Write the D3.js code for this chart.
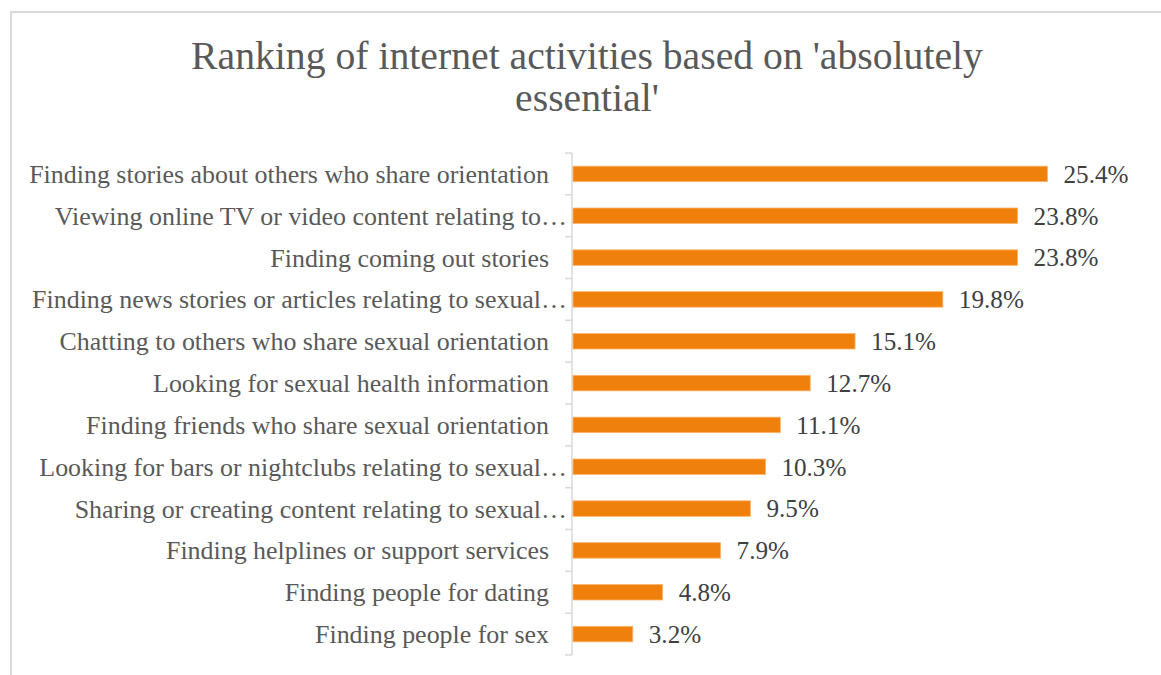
<!DOCTYPE html>
<html>
<head>
<meta charset="utf-8">
<script src="https://cdn.jsdelivr.net/npm/d3@7"></script>
<style>
  html, body { margin: 0; padding: 0; background: #fff; }
  svg { display: block; }
  text { font-family: "Liberation Serif", "DejaVu Serif", serif; }
</style>
</head>
<body>
<svg id="chart" width="1161" height="675"></svg>
<script>
// Share of respondents rating each activity "absolutely essential"
const categories = [
  "Finding stories about others who share orientation",
  "Viewing online TV or video content relating to…",
  "Finding coming out stories",
  "Finding news stories or articles relating to sexual…",
  "Chatting to others who share sexual orientation",
  "Looking for sexual health information",
  "Finding friends who share sexual orientation",
  "Looking for bars or nightclubs relating to sexual…",
  "Sharing or creating content relating to sexual…",
  "Finding helplines or support services",
  "Finding people for dating",
  "Finding people for sex"
];
const values = [25.4, 23.8, 23.8, 19.8, 15.1, 12.7, 11.1, 10.3, 9.5, 7.9, 4.8, 3.2];
const valueLabels = ["25.4%", "23.8%", "23.8%", "19.8%", "15.1%", "12.7%", "11.1%", "10.3%", "9.5%", "7.9%", "4.8%", "3.2%"];
const titleLines = ["Ranking of internet activities based on 'absolutely", "essential'"];
const xMax = 30;

(function draw() {
  const svg = d3.select("#chart");

  // chart frame (runs off the right and bottom edges)
  svg.append("rect")
    .attr("x", 11).attr("y", 12)
    .attr("width", 1200).attr("height", 700)
    .attr("fill", "none")
    .attr("stroke", "#D9D9D9")
    .attr("stroke-width", 2);

  // title
  const title = svg.append("g");
  titleLines.forEach((line, i) => {
    title.append("text")
      .attr("x", 587)
      .attr("y", 69 + i * 42)
      .attr("text-anchor", "middle")
      .attr("fill", "#595959")
      .style("font-size", "36px")
      .text(line);
  });
  // size the title so its first line spans the intended width
  {
    const w = title.select("text").node().getComputedTextLength();
    title.selectAll("text").style("font-size", (36 * 792 / w) + "px");
  }

  const axisX = 572, plotTop = 153, plotBottom = 655;
  const x = d3.scaleLinear().domain([0, xMax]).range([axisX + 1, axisX + 1 + 18.68 * xMax]);
  const y = d3.scaleBand().domain(categories).range([plotTop, plotBottom]).paddingInner(0.63).paddingOuter(0.315);
  const band = d3.scaleBand().domain(categories).range([plotTop, plotBottom]);

  // category axis with tick marks between categories
  const axisG = svg.append("g");
  axisG.append("line")
    .attr("x1", axisX).attr("x2", axisX)
    .attr("y1", plotTop).attr("y2", plotBottom)
    .attr("stroke", "#D9D9D9").attr("stroke-width", 1.5);
  const tickYs = categories.map(c => band(c)).concat([plotBottom]);
  axisG.selectAll("line.tick").data(tickYs).enter().append("line")
    .attr("class", "tick")
    .attr("x1", axisX - 7).attr("x2", axisX)
    .attr("y1", d => d).attr("y2", d => d)
    .attr("stroke", "#D9D9D9").attr("stroke-width", 1.5);

  // category labels
  const labelSize = 21;
  const labels = svg.append("g").selectAll("text").data(categories).enter().append("text")
    .attr("x", d => d.endsWith("…") ? axisX - 5 : axisX - 23)
    .attr("y", d => band(d) + band.bandwidth() / 2)
    .attr("dy", "0.35em")
    .attr("text-anchor", "end")
    .attr("fill", "#595959")
    .style("font-size", labelSize + "px")
    .text(d => d);
  {
    const w = labels.nodes()[0].getComputedTextLength();
    labels.style("font-size", (labelSize * 520 / w) + "px");
  }

  // bars
  const data = categories.map((c, i) => ({ c, v: values[i], label: valueLabels[i] }));
  svg.append("g").selectAll("rect").data(data).enter().append("rect")
    .attr("x", x(0))
    .attr("y", d => y(d.c))
    .attr("width", d => x(d.v) - x(0))
    .attr("height", y.bandwidth())
    .attr("fill", "#F0800C")
    .attr("stroke", "#F8B36B")
    .attr("stroke-width", 0.8);

  // value labels
  const vals = svg.append("g").selectAll("text").data(data).enter().append("text")
    .attr("x", d => x(d.v) + 16)
    .attr("y", d => y(d.c) + y.bandwidth() / 2)
    .attr("dy", "0.35em")
    .attr("fill", "#404040")
    .style("font-size", labelSize + "px")
    .text(d => d.label);
  {
    const w = vals.nodes()[0].getComputedTextLength();
    vals.style("font-size", (labelSize * 65 / w) + "px");
  }
})();
</script>
</body>
</html>
